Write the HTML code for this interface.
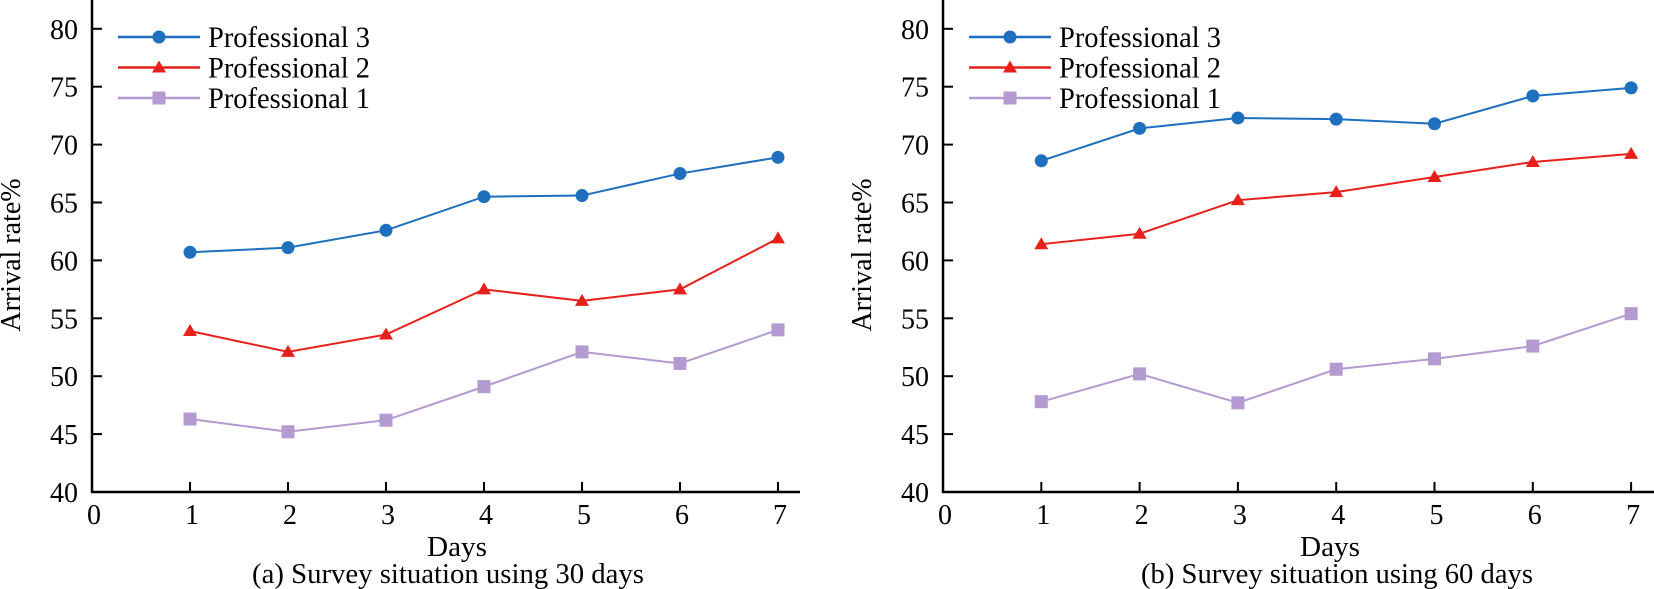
<!DOCTYPE html>
<html><head><meta charset="utf-8"><style>
html,body{margin:0;padding:0;background:#fff;}
svg{display:block;font-family:"Liberation Serif",serif;}
</style></head><body>
<svg width="1654" height="589" viewBox="0 0 1654 589" xmlns="http://www.w3.org/2000/svg">
<defs>
<g id="circ"><circle r="6.5" fill="#1f6fbf"/></g>
<g id="tri"><path d="M0,-7 L7,5 L-7,5 Z" fill="#e8201c"/></g>
<g id="sq"><rect x="-6.5" y="-6.5" width="13" height="13" fill="#b39ad0"/></g>
</defs>
</svg>
<script>
(function(){
var NS="http://www.w3.org/2000/svg";
var svg=document.querySelector('svg');
function el(t,a,txt){var e=document.createElementNS(NS,t);for(var k in a)e.setAttribute(k,a[k]);if(txt!==undefined)e.textContent=txt;svg.appendChild(e);return e;}
function Y(v){return 492-(v-40)*57.9/5;}
function chart(x0,dx,xend,data,cap,capx,daysx){
  el('line',{x1:x0,y1:0,x2:x0,y2:493,stroke:'#000','stroke-width':2.5});
  el('line',{x1:x0-1,y1:492,x2:xend,y2:492,stroke:'#000','stroke-width':2.5});
  for(var v=40;v<=80;v+=5){var y=Y(v);
    if(v>40)el('line',{x1:x0,y1:y,x2:x0+10,y2:y,stroke:'#000','stroke-width':2});
    el('text',{x:x0-14,y:y+10,'font-size':28,'text-anchor':'end'},String(v));}
  for(var i=0;i<=7;i++){var x=x0+i*dx;
    if(i>0)el('line',{x1:x,y1:492,x2:x,y2:482,stroke:'#000','stroke-width':2});
    el('text',{x:x+2,y:524,'font-size':28,'text-anchor':'middle'},String(i));}
  el('text',{x:daysx,y:556,'font-size':28,'text-anchor':'middle',textLength:60,lengthAdjust:'spacingAndGlyphs'},'Days');
  el('text',{x:capx,y:583,'font-size':28,'text-anchor':'middle',textLength:392,lengthAdjust:'spacingAndGlyphs'},cap);
  el('text',{x:0,y:0,'font-size':28,'text-anchor':'middle',transform:'translate('+(x0-72)+',255) rotate(-90)'},'Arrival rate%');
  var cols=['#1f6fbf','#e8201c','#b39ad0'],mk=['#circ','#tri','#sq'],names=['Professional 3','Professional 2','Professional 1'];
  for(var s=0;s<3;s++){
    var pts=data[s].map(function(v,i){return (x0+(i+1)*dx)+','+Y(v);}).join(' ');
    el('polyline',{points:pts,fill:'none',stroke:cols[s],'stroke-width':2});
    data[s].forEach(function(v,i){el('use',{href:mk[s],x:x0+(i+1)*dx,y:Y(v)});});
    var ly=37+s*30.5;
    el('line',{x1:x0+26,y1:ly,x2:x0+108,y2:ly,stroke:cols[s],'stroke-width':2.5});
    el('use',{href:mk[s],x:x0+67,y:ly});
    el('text',{x:x0+116,y:ly+10,'font-size':30,textLength:162,lengthAdjust:'spacingAndGlyphs'},names[s]);
  }
}
chart(92,98,800,[[60.7,61.1,62.6,65.5,65.6,67.5,68.9],[53.9,52.1,53.6,57.5,56.5,57.5,61.9],[46.3,45.2,46.2,49.1,52.1,51.1,54.0]],'(a) Survey situation using 30 days',448,457);
chart(943,98.3,1654,[[68.6,71.4,72.3,72.2,71.8,74.2,74.9],[61.4,62.3,65.2,65.9,67.2,68.5,69.2],[47.8,50.2,47.7,50.6,51.5,52.6,55.4]],'(b) Survey situation using 60 days',1337,1330);
})();
</script>
</body></html>
